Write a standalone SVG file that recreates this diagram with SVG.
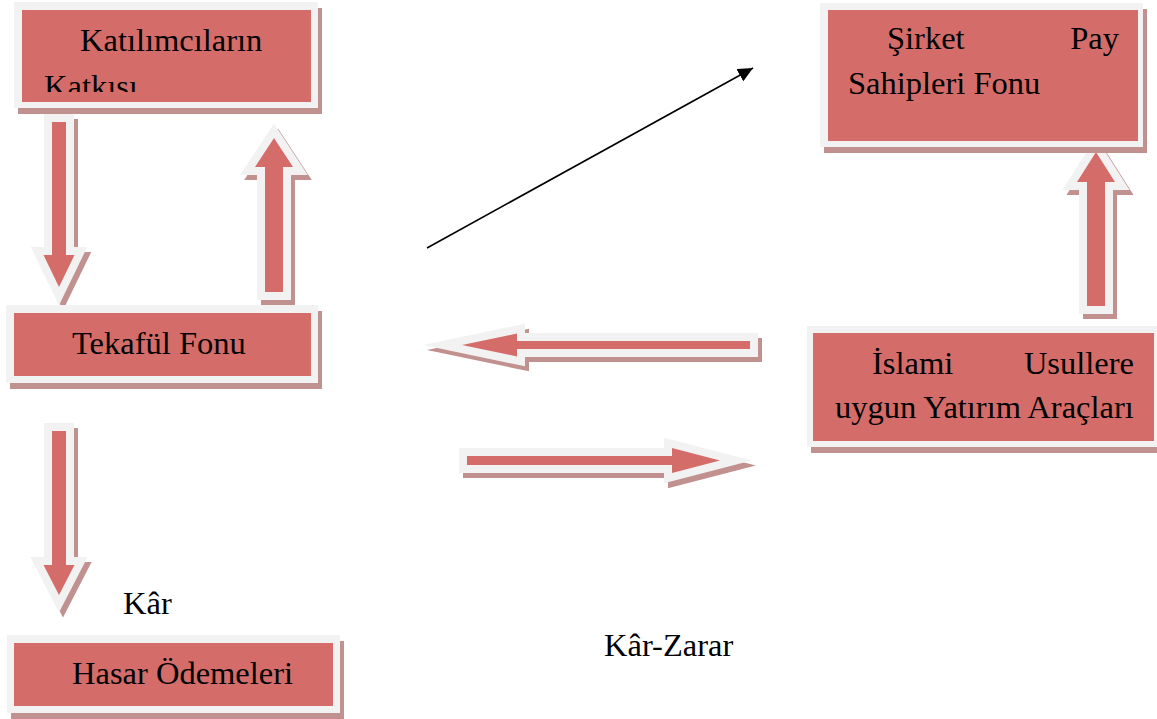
<svg xmlns="http://www.w3.org/2000/svg" width="1157" height="719" viewBox="0 0 1157 719">
  <style>
    .shadow { fill: #c0918f; }
    .frame { fill: #f2f2f2; }
    .box { fill: #d46d69; }
    .lbl { font-family: "Liberation Serif", "Times New Roman", serif; font-size: 32.5px; fill: #000; }
    .arrow { fill: #d46d69; stroke: #f2f2f2; stroke-width: 16; paint-order: stroke; stroke-linejoin: miter; stroke-miterlimit: 10; }
    .ashadow { fill: #c0918f; stroke: #c0918f; stroke-width: 16; stroke-linejoin: miter; stroke-miterlimit: 10; }
    .line { fill: none; stroke: #000; stroke-width: 1.6; }
  </style>
  <defs>
    <marker id="head" markerUnits="userSpaceOnUse" markerWidth="16" markerHeight="14" refX="15" refY="7" orient="auto">
      <path d="M0,0 L15,7 L0,14 z" fill="#000"/>
    </marker>
    <clipPath id="clipK">
      <rect x="22" y="10" width="289" height="82"/>
    </clipPath>
    <polygon id="aDown1" points="52,122 66,122 66,255 74.5,255 59,287 43.5,255 52,255"/>
    <polygon id="aDown2" points="52,431 66,431 66,565 74.5,565 59,595 43.5,565 52,565"/>
    <polygon id="aUpL" points="265,292 283,292 283,167 293,167 274,138 255,167 265,167"/>
    <polygon id="aUpR" points="1087,306 1105,306 1105,182 1115,182 1096,152 1077,182 1087,182"/>
    <polygon id="aLeft" points="750,341 750,349 517,349 517,356.5 462,345 517,333.5 517,341"/>
    <polygon id="aRight" points="467,456 672,456 672,448 720,460.5 672,473 672,465 467,465"/>
  </defs>

  <g id="connectors">
    <use href="#aDown1" class="ashadow" transform="translate(4,5)"/>
    <use href="#aDown1" class="arrow"/>
    <use href="#aUpL" class="ashadow" transform="translate(4,5)"/>
    <use href="#aUpL" class="arrow"/>
    <use href="#aDown2" class="ashadow" transform="translate(4,5)"/>
    <use href="#aDown2" class="arrow"/>
    <use href="#aUpR" class="ashadow" transform="translate(4,5)"/>
    <use href="#aUpR" class="arrow"/>
    <use href="#aLeft" class="ashadow" transform="translate(4,5)"/>
    <use href="#aLeft" class="arrow"/>
    <use href="#aRight" class="ashadow" transform="translate(4,5)"/>
    <use href="#aRight" class="arrow"/>
    <line class="line" x1="427" y1="248" x2="753" y2="68" marker-end="url(#head)"/>
  </g>

  <g id="katilimcilar">
    <rect class="shadow" x="18" y="8" width="304" height="106"/>
    <rect class="frame" x="14" y="2" width="304" height="106"/>
    <rect class="box" x="22" y="10" width="289" height="92"/>
    <text class="lbl" x="80" y="51">Katılımcıların</text>
    <text class="lbl" x="44" y="97" clip-path="url(#clipK)">Katkısı</text>
  </g>

  <g id="sirket">
    <rect class="shadow" x="824" y="9" width="323" height="144"/>
    <rect class="frame" x="820" y="3" width="323" height="144"/>
    <rect class="box" x="828" y="10" width="310" height="131"/>
    <text class="lbl" x="887" y="49">Şirket</text>
    <text class="lbl" x="1119" y="49" text-anchor="end">Pay</text>
    <text class="lbl" x="848" y="94">Sahipleri Fonu</text>
  </g>

  <g id="tekaful">
    <rect class="shadow" x="10" y="311" width="312" height="78"/>
    <rect class="frame" x="6" y="305" width="312" height="78"/>
    <rect class="box" x="14" y="313" width="297" height="63"/>
    <text class="lbl" x="72" y="354">Tekafül Fonu</text>
  </g>

  <g id="islami">
    <rect class="shadow" x="811" y="332" width="352" height="121"/>
    <rect class="frame" x="807" y="326" width="352" height="121"/>
    <rect class="box" x="813" y="333" width="341" height="108"/>
    <text class="lbl" x="872" y="374">İslami</text>
    <text class="lbl" x="1134" y="374" text-anchor="end">Usullere</text>
    <text class="lbl" x="835" y="418">uygun Yatırım Araçları</text>
  </g>

  <g id="hasar">
    <rect class="shadow" x="11" y="641" width="333" height="78"/>
    <rect class="frame" x="7" y="635" width="333" height="78"/>
    <rect class="box" x="14" y="643" width="319" height="63"/>
    <text class="lbl" x="72" y="684">Hasar Ödemeleri</text>
  </g>

  <g id="labels">
    <text class="lbl" x="123" y="614">Kâr</text>
    <text class="lbl" x="604" y="656">Kâr-Zarar</text>
  </g>
</svg>
